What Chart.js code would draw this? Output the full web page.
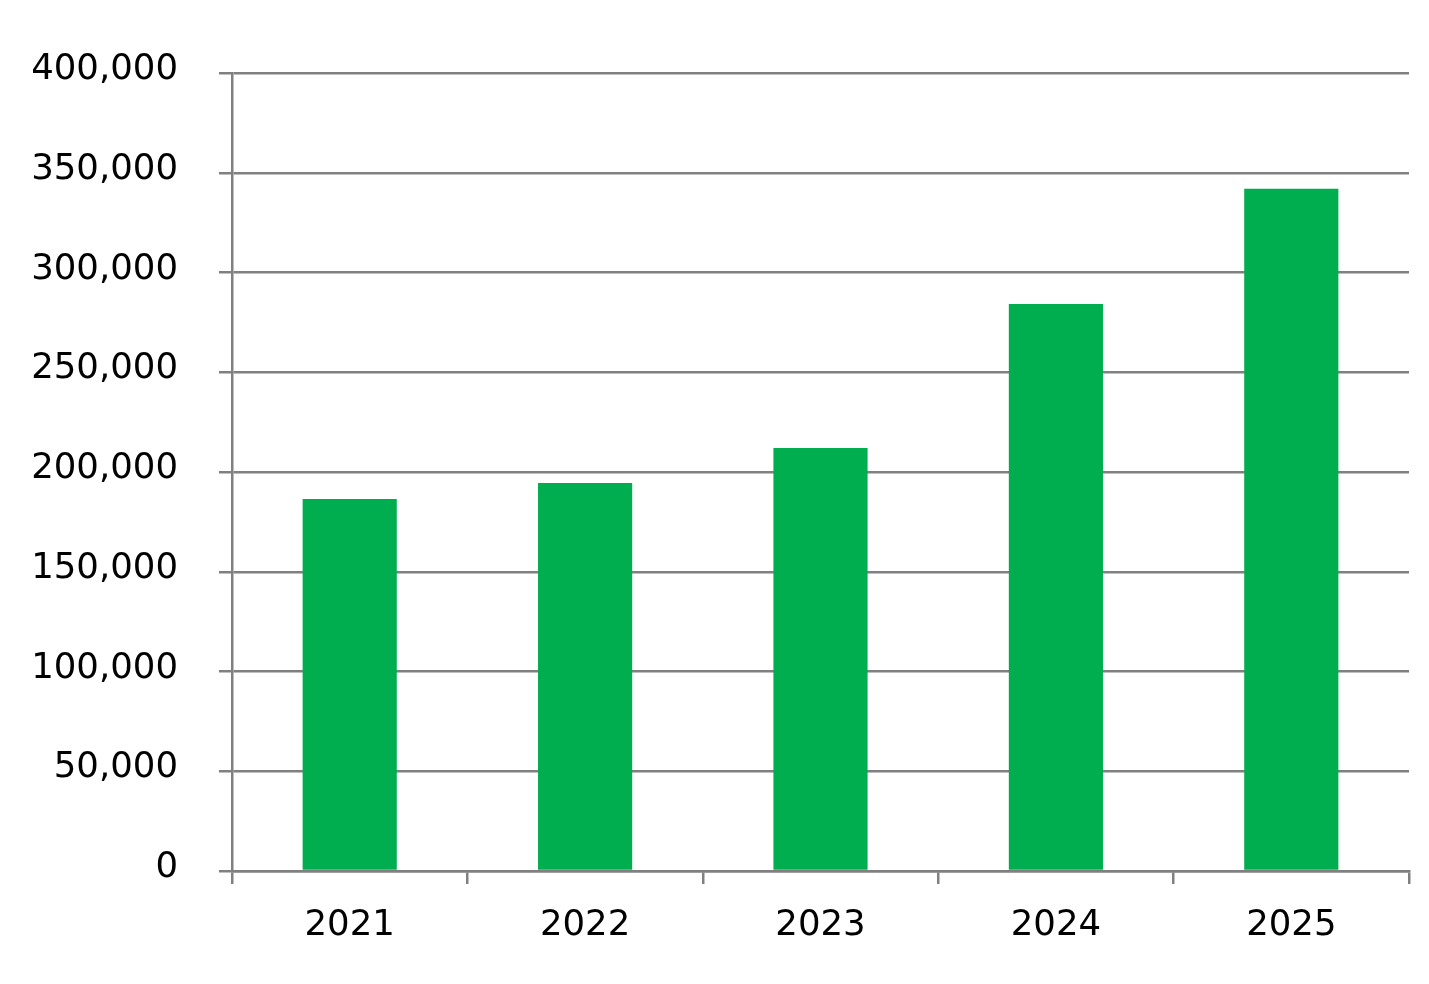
<!DOCTYPE html>
<html>
<head>
<meta charset="utf-8">
<script src="https://cdn.jsdelivr.net/npm/chart.js@4.4.1/dist/chart.umd.min.js"></script>
<style>
  html, body { margin: 0; padding: 0; background: #fff; }
  #wrap { width: 1429px; height: 984px; }
</style>
</head>
<body>
<div id="wrap"><canvas id="chart" width="1429" height="984"></canvas></div>
<script>
var years = ['2021', '2022', '2023', '2024', '2025'];
var values = [186500, 194500, 212000, 284200, 342000];
var yTicks = [0, 50000, 100000, 150000, 200000, 250000, 300000, 350000, 400000];

var axisGray = '#808080';
var fontFamily = 'Verdana, "DejaVu Sans", sans-serif';

var ctx = document.getElementById('chart');
var barChart = new Chart(ctx, {
	type: 'bar',
	data: {
		labels: years,
		datasets: [{
			label: 'Value',
			data: values,
			backgroundColor: '#00AE4F',
			borderWidth: 0,
			barPercentage: 0.4,
			categoryPercentage: 1.0
		}]
	},
	options: {
		responsive: false,
		animation: false,
		layout: { padding: { top: 73, right: 20, left: 0, bottom: 0 } },
		plugins: {
			legend: { display: false },
			title: { display: false },
			tooltip: { enabled: false }
		},
		scales: {
			x: {
				grid: {
					offset: true,
					drawOnChartArea: false,
					drawTicks: true,
					tickLength: 13,
					color: axisGray,
					lineWidth: 2.5
				},
				border: { color: axisGray, width: 2.5 },
				ticks: {
					color: '#000',
					padding: 20,
					font: { family: fontFamily, size: 35.5 }
				},
				afterFit: function(scale) { scale.height = 113; }
			},
			y: {
				min: 0,
				max: 400000,
				afterBuildTicks: function(scale) {
					scale.ticks = yTicks.map(function(v) { return { value: v }; });
				},
				grid: {
					color: axisGray,
					lineWidth: 2.5,
					drawTicks: true,
					tickLength: 13
				},
				border: { color: axisGray, width: 2.5 },
				ticks: {
					color: '#000',
					padding: 41,
					labelOffset: -3,
					font: { family: fontFamily, size: 35.5 },
					callback: function(v) { return v.toLocaleString('en-US'); }
				},
				afterFit: function(scale) { scale.width = 232; }
			}
		}
	}
});
</script>
</body>
</html>
